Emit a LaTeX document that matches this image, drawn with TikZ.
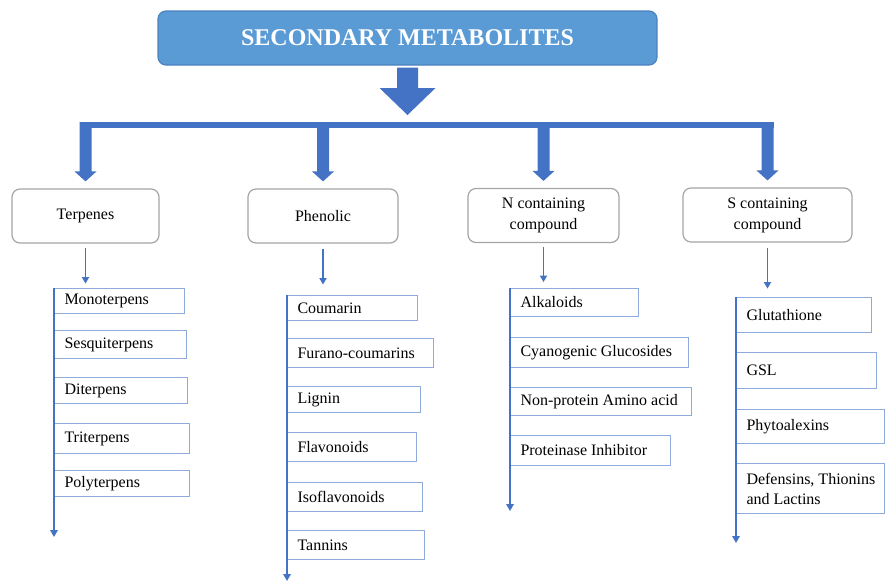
\documentclass[tikz,border=0pt]{standalone}
\usepackage{fontspec}
\setmainfont{Liberation Serif}
\usetikzlibrary{arrows.meta,calc}
\definecolor{titlefill}{HTML}{5B9BD5}
\definecolor{titleedge}{HTML}{4B82BE}
\definecolor{flowblue}{HTML}{4472C4}
\definecolor{itemedge}{HTML}{8FAADC}
\definecolor{catedge}{HTML}{A5A5A5}
\tikzset{
  titlebox/.style={draw=titleedge, line width=1.2pt, fill=titlefill, rounded corners=8pt,
    text=white, font=\fontsize{24}{28}\selectfont\bfseries},
  catbox/.style={draw=catedge, line width=1.2pt, fill=white, rounded corners=8pt,
    align=center, font=\fontsize{16}{21}\selectfont, minimum height=54pt},
  itembox/.style={draw=itemedge, line width=1pt, fill=white, anchor=north west,
    align=flush left, inner xsep=10pt, inner ysep=2pt, font=\fontsize{16}{20}\selectfont},
  barline/.style={draw=flowblue, line width=6pt},
  smallarrow/.style={draw=flowblue, line width=1.8pt, -{Triangle[length=6.5pt,width=7pt]}},
  listline/.style={draw=flowblue, line width=2.8pt, -{Triangle[length=7pt,width=7.5pt]}},
}
% block arrow pointing down: start, tip, half shaft width, half head width, head length
\newcommand{\blockdown}[5]{%
  \fill[flowblue] let \p1=#1, \p2=#2 in
    (\x1-#3pt,\y1) -- (\x1+#3pt,\y1) -- (\x1+#3pt,\y2+#5pt) -- (\x1+#4pt,\y2+#5pt)
    -- (\x1,\y2) -- (\x1-#4pt,\y2+#5pt) -- (\x1-#3pt,\y2+#5pt) -- cycle;}
% list entry: name, x, y (top left), width, height, text
\newcommand{\chemitem}[6]{%
  \pgfmathsetmacro{\itemtw}{#4-20}%
  \node[itembox, minimum width=#4pt, minimum height=#5pt, text width=\itemtw pt] (#1) at (#2,#3) {#6};}
\begin{document}
\begin{tikzpicture}[x=1pt,y=-1pt]
\useasboundingbox (0,0) rectangle (885,582);

% heading
\node[titlebox, minimum width=499pt, minimum height=54pt] (title) at (407.5,38) {SECONDARY METABOLITES};

% the four classes
\node[catbox, minimum width=147pt] (terp) at (85.5,216) {Terpenes};
\node[catbox, minimum width=150pt] (phen) at (323,216) {Phenolic};
\node[catbox, minimum width=151pt] (ncomp) at (543.5,215.5) {N containing\\compound};
\node[catbox, minimum width=169pt] (scomp) at (767.5,215) {S containing\\compound};

% thick distribution arrows
\coordinate (bar) at (0,125);
\coordinate (hubtip) at (407.5,115);
\blockdown{($(title.south)+(0,2)$)}{(hubtip)}{10.5}{28}{27}
\draw[barline] ($(terp.north |- bar)+(-6,0)$) -- ($(scomp.north |- bar)+(6,0)$);
\foreach \c in {terp,phen,ncomp,scomp}{
  \blockdown{($(\c.north |- bar)+(0,-3)$)}{($(\c.north)+(0,-7)$)}{6}{11}{10}
}

% thin arrows from each class to its list
\draw[smallarrow] ([yshift=-4pt]terp.south) -- ++(0,36);
\draw[smallarrow] ([yshift=-5pt]phen.south) -- ++(0,36);
\draw[smallarrow] ([yshift=-4pt]ncomp.south) -- ++(0,35);
\draw[smallarrow] ([yshift=-5pt]scomp.south) -- ++(0,41);

% terpenes
\chemitem{t1}{54}{288}{130}{25}{Monoterpens}
\chemitem{t2}{54}{330}{132}{28}{Sesquiterpens}
\chemitem{t3}{54}{377}{133}{26}{Diterpens}
\chemitem{t4}{54}{423}{135}{30}{Triterpens}
\chemitem{t5}{54}{470}{135}{26}{Polyterpens}
\coordinate (tTop) at (54,288);
\coordinate (tEnd) at (54,537);
\draw[listline] (tTop) -- (tEnd);

% phenolics
\chemitem{p1}{287}{295}{130}{25}{Coumarin}
\chemitem{p2}{287}{338}{146}{29}{Furano-coumarins}
\chemitem{p3}{287}{386}{133}{26}{Lignin}
\chemitem{p4}{287}{432}{129}{29}{Flavonoids}
\chemitem{p5}{287}{482}{135}{29}{Isoflavonoids}
\chemitem{p6}{287}{530}{137}{29}{Tannins}
\coordinate (pTop) at (287,295);
\coordinate (pEnd) at (287,581);
\draw[listline] (pTop) -- (pEnd);

% nitrogen compounds
\chemitem{n1}{510}{288}{128}{28}{Alkaloids}
\chemitem{n2}{510}{337}{178}{30}{Cyanogenic Glucosides}
\chemitem{n3}{510}{387}{181}{28}{Non-protein Amino acid}
\chemitem{n4}{510}{435}{160}{30}{Proteinase Inhibitor}
\coordinate (nTop) at (510,288);
\coordinate (nEnd) at (510,511);
\draw[listline] (nTop) -- (nEnd);

% sulphur compounds
\chemitem{s1}{736}{297}{135}{35}{Glutathione}
\chemitem{s2}{736}{352}{140}{36}{GSL}
\chemitem{s3}{736}{409}{148}{34}{Phytoalexins}
\chemitem{s4}{736}{463}{148}{50}{\mbox{Defensins, Thionins}\\and Lactins}
\coordinate (sTop) at (736,297);
\coordinate (sEnd) at (736,543);
\draw[listline] (sTop) -- (sEnd);
\end{tikzpicture}
\end{document}
